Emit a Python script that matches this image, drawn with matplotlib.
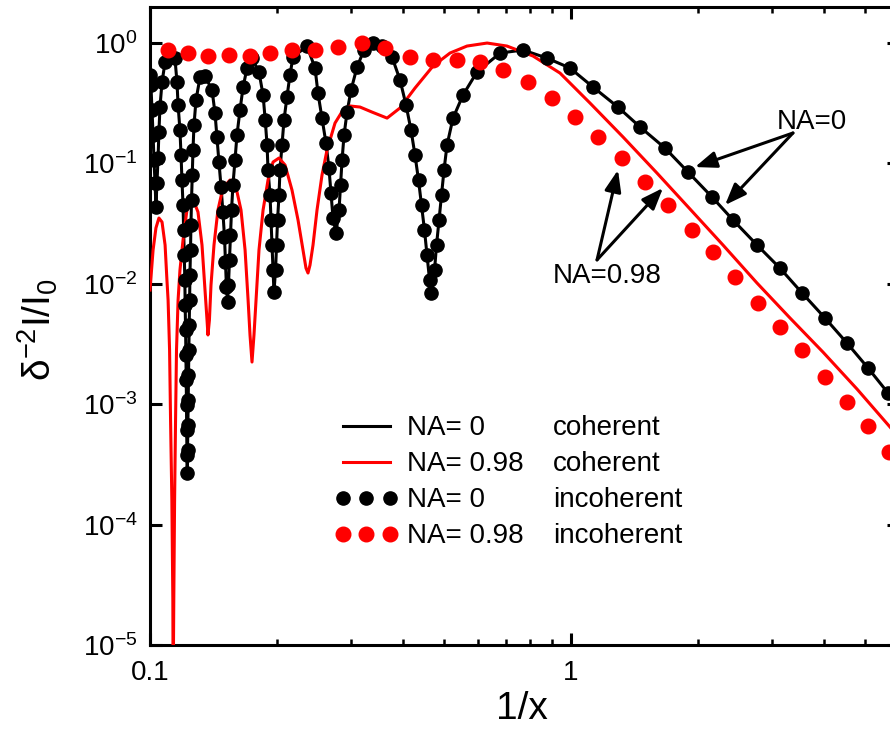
import matplotlib
matplotlib.use("Agg")
import matplotlib.pyplot as plt
from matplotlib.lines import Line2D
from matplotlib.ticker import FixedLocator, NullLocator, LogLocator, NullFormatter, FixedFormatter

plt.rcParams['font.family'] = ['Liberation Sans', 'DejaVu Sans']
plt.rcParams['mathtext.fontset'] = 'custom'
plt.rcParams['mathtext.rm'] = 'Liberation Sans'
plt.rcParams['mathtext.it'] = 'Liberation Sans:italic'
plt.rcParams['mathtext.default'] = 'regular'

# ---- data: NA = 0 (coherent and incoherent coincide) ----
x_na0 = [0.1000, 0.1005, 0.1011, 0.1017, 0.1022, 0.1028, 0.1033, 0.1039, 0.1045, 0.1050,
         0.1056, 0.1068, 0.1086, 0.1116, 0.1146, 0.1159, 0.1166, 0.1178, 0.1185, 0.1191,
         0.1198, 0.1202, 0.1206, 0.1210, 0.1212, 0.1215, 0.1217, 0.1219, 0.1221, 0.1222,
         0.1224, 0.1226,
         0.1228, 0.1230, 0.1232, 0.1234, 0.1236, 0.1239, 0.1242, 0.1244, 0.1248, 0.1251,
         0.1255, 0.1260, 0.1265, 0.1272, 0.1286, 0.1315,
         0.1351, 0.1404, 0.1427, 0.1442, 0.1458, 0.1475, 0.1490, 0.1503, 0.1511, 0.1519, 0.1528,
         0.1536, 0.1545, 0.1553, 0.1562, 0.1574, 0.1592, 0.1609, 0.1636, 0.1664, 0.1700, 0.1747,
         0.1815, 0.1856, 0.1878, 0.1897, 0.1907, 0.1928, 0.1939, 0.1949, 0.1960, 0.1970,
         0.1987, 0.1998, 0.2009, 0.2025, 0.2036, 0.2058, 0.2081, 0.2115, 0.2150, 0.2186, 0.2360,
         0.2466, 0.2506, 0.2562, 0.2618, 0.2661, 0.2691, 0.2721, 0.2766,
         0.2812, 0.2835, 0.2859, 0.2890, 0.2938, 0.3003, 0.3103, 0.3223, 0.3386, 0.3557,
         0.3757, 0.3926, 0.4057, 0.4169, 0.4261, 0.4343, 0.4415, 0.4487, 0.4550, 0.4613, 0.4660,
         0.4741, 0.4793, 0.4859, 0.4925, 0.4993, 0.5076, 0.5245, 0.5540, 0.5978,
         0.6785, 0.7690, 0.8769, 0.9945, 1.128, 1.2925, 1.4585, 1.6727, 1.8967, 2.1626,
         2.4254, 2.7661, 3.1355, 3.5383, 4.011, 4.5248, 5.0758, 5.6624, 6.0]
y_na0 = [0.542, 0.448, 0.278, 0.172, 0.107, 0.0687, 0.0434, 0.0687, 0.111, 0.182,
         0.294, 0.474, 0.695, 0.780, 0.750, 0.474, 0.305, 0.189, 0.117, 0.0728,
         0.0451, 0.0280, 0.0173, 0.0108, 0.00667, 0.00413, 0.00256, 0.00159, 0.000985, 0.000610,
         0.000379, 0.000268,
         0.000417, 0.000672, 0.00108, 0.00175, 0.00282, 0.00455, 0.00733, 0.0118, 0.0191, 0.0308,
         0.0497, 0.0801, 0.129, 0.208, 0.336, 0.522,
         0.532, 0.407, 0.262, 0.166, 0.1027, 0.0637, 0.0395, 0.0245, 0.0152, 0.0094, 0.0071,
         0.00977, 0.0158, 0.0254, 0.0410, 0.0662, 0.107, 0.172, 0.278, 0.431, 0.620, 0.750,
         0.574, 0.370, 0.229, 0.142, 0.0882, 0.0546, 0.0339, 0.0210, 0.0130, 0.00855,
         0.0130, 0.0210, 0.0339, 0.0546, 0.0882, 0.142, 0.229, 0.356, 0.542, 0.765, 0.944,
         0.620, 0.384, 0.238, 0.148, 0.0916, 0.0568, 0.0352, 0.0264,
         0.0410, 0.0662, 0.107, 0.172, 0.267, 0.407, 0.632, 0.875, 1.0, 0.944,
         0.765, 0.493, 0.305, 0.189, 0.117, 0.0728, 0.0451, 0.0280, 0.0173, 0.0108, 0.0084,
         0.0130, 0.0210, 0.0339, 0.0546, 0.0882, 0.142, 0.238, 0.370, 0.574,
         0.826, 0.875, 0.750, 0.620, 0.431, 0.294, 0.201, 0.134, 0.0849, 0.0526,
         0.0339, 0.0210, 0.0135, 0.0084, 0.0052, 0.00322, 0.0020, 0.00124, 0.00098]

# ---- data: NA = 0.98 coherent ----
x_na098_coh = [0.1000, 0.1017, 0.1033, 0.1050, 0.1068, 0.1086, 0.1097, 0.1104, 0.1113, 0.1119,
               0.1127, 0.1133, 0.1135, 0.1139, 0.1144, 0.1150, 0.1156, 0.1166, 0.1178, 0.1198,
               0.1224, 0.1265, 0.1300, 0.1329, 0.1351, 0.1366, 0.1373, 0.1384, 0.1396, 0.1419,
               0.1450, 0.1490, 0.1549, 0.1600, 0.1645, 0.1682, 0.1710, 0.1728, 0.1747, 0.1766,
               0.1786, 0.1815, 0.1856, 0.1907, 0.1960, 0.2025, 0.2093, 0.2174, 0.2247, 0.2309,
               0.2347, 0.2373, 0.2399, 0.2439, 0.2493, 0.2562, 0.2633, 0.2751, 0.2875, 0.2986,
               0.3154, 0.3368, 0.3657, 0.3926, 0.4261, 0.4702, 0.5160, 0.5662, 0.6320, 0.7046,
               0.8124, 0.9417, 1.1093, 1.3288, 1.6003, 1.9173, 2.2963, 2.7661, 3.3131, 3.9676,
               4.7791, 5.7251, 6.0]
y_na098_coh = [0.00888, 0.0191, 0.0291, 0.0352, 0.0326, 0.0210, 0.0108, 0.00733, 0.00282, 0.000739,
               0.000160, 2.4e-5, 4e-6, 2.4e-5, 0.000160, 0.000739, 0.00282, 0.00733, 0.0130, 0.0231,
               0.0410, 0.0506, 0.0395, 0.0210, 0.00888, 0.00500, 0.00376, 0.00500, 0.00977, 0.0210,
               0.0410, 0.0625, 0.0728, 0.0637, 0.0410, 0.0191, 0.00733, 0.00376, 0.00224, 0.00376,
               0.00733, 0.0191, 0.0410, 0.0728, 0.1027, 0.1109, 0.0970, 0.0601, 0.0339, 0.0191,
               0.0135, 0.0123, 0.0143, 0.0210, 0.0410, 0.0801, 0.129, 0.2165, 0.278, 0.300,
               0.294, 0.267, 0.238, 0.289, 0.423, 0.644, 0.826, 0.944, 1.0, 0.944,
               0.780, 0.563, 0.3175, 0.166, 0.0832, 0.0418, 0.0210, 0.01015, 0.0052, 0.00271,
               0.001337, 0.000646, 0.000534]

# ---- data: NA = 0.98 incoherent ----
x_na098_inc = [0.1104, 0.1231, 0.1373, 0.1540, 0.1728, 0.1928, 0.2174, 0.2466, 0.2797, 0.3188,
               0.3616, 0.4146, 0.4702, 0.5361, 0.6077, 0.6896, 0.7905, 0.9014, 1.0221, 1.1590,
               1.3213, 1.4991, 1.7000, 1.9385, 2.1744, 2.4521, 2.7814, 3.1355, 3.5383, 4.0110,
               4.5248, 5.0758, 5.6935]
y_na098_inc = [0.875, 0.826, 0.780, 0.795, 0.780, 0.826, 0.875, 0.875, 0.926, 1.0,
               0.909, 0.765, 0.723, 0.723, 0.695, 0.597, 0.474, 0.349, 0.243, 0.166,
               0.111, 0.0701, 0.0451, 0.0280, 0.01837, 0.01139, 0.00693, 0.00438, 0.00282, 0.00168,
               0.001043, 0.000659, 0.000401]

legend_labels = ['NA= 0', 'NA= 0.98', 'NA= 0', 'NA= 0.98']
legend_kinds = ['coherent', 'coherent', 'incoherent', 'incoherent']
x_tick_vals = [0.1, 1]
x_tick_labels = ['0.1', '1']
y_tick_vals = [1e-5, 1e-4, 1e-3, 1e-2, 1e-1, 1]
y_tick_labels = ['$10^{-5}$', '$10^{-4}$', '$10^{-3}$', '$10^{-2}$', '$10^{-1}$', '$10^{0}$']

fig = plt.figure(figsize=(8.9, 7.3), dpi=100)
ax = fig.add_axes([150 / 890, 85 / 730, 748.6 / 890, 638.2 / 730])
ax.set_xscale('log')
ax.set_yscale('log')

ax.plot(x_na0, y_na0, color='black', lw=2.2, zorder=2)
ax.plot(x_na098_coh, y_na098_coh, color='red', lw=2.2, zorder=3)
ax.plot(x_na0, y_na0, ls='none', marker='o', ms=9.5, color='black', mec='black', zorder=4)
ax.plot(x_na098_inc, y_na098_inc, ls='none', marker='o', ms=10.5, color='red', mec='red', zorder=5)

ax.set_xlim(0.1, 6.0)
ax.set_ylim(1e-5, 2.0)

for s in ax.spines.values():
    s.set_linewidth(2.2)

ax.xaxis.set_major_locator(FixedLocator(x_tick_vals))
ax.xaxis.set_major_formatter(FixedFormatter(x_tick_labels))
ax.xaxis.set_minor_locator(LogLocator(base=10, subs=[2, 3, 4, 5, 6, 7, 8, 9]))
ax.xaxis.set_minor_formatter(NullFormatter())
ax.yaxis.set_major_locator(FixedLocator(y_tick_vals))
ax.yaxis.set_major_formatter(FixedFormatter(y_tick_labels))
ax.yaxis.set_minor_locator(NullLocator())

ax.tick_params(which='both', direction='in', top=True, right=True, width=2.2)
ax.tick_params(which='major', length=8.5, labelsize=20)
ax.tick_params(which='minor', length=4.5, width=1.8)
ax.tick_params(axis='x', which='major', pad=11)
ax.tick_params(axis='y', which='major', pad=9)

ax.set_xlabel('1/x', fontsize=28)
ax.xaxis.set_label_coords(0.497, -0.072)
ax.xaxis.label.set_va('top')
ax.set_ylabel('δ$^{-2}$I/I$_0$', fontsize=28)
ax.yaxis.set_label_coords(-0.120, 0.494)

handles = [
    Line2D([], [], color='black', lw=2.2),
    Line2D([], [], color='red', lw=2.2),
    Line2D([], [], ls='none', marker='o', ms=9.5, color='black'),
    Line2D([], [], ls='none', marker='o', ms=10.5, color='red'),
]
leg = ax.legend(handles, legend_labels, loc='upper left', bbox_to_anchor=(0.247, 0.360),
                frameon=False, fontsize=20, numpoints=3, handlelength=2.27,
                handletextpad=0.32, labelspacing=0.36, borderpad=0, borderaxespad=0)

fig.canvas.draw()
inv = fig.transFigure.inverted()
for t, kind in zip(leg.get_texts(), legend_kinds):
    bb = t.get_window_extent()
    x0, y0 = inv.transform((553, bb.y0))
    fig.text(x0, y0, kind, fontsize=20, ha='left', va='bottom')

arrow_kw = dict(arrowstyle='-|>,head_length=0.65,head_width=0.25', lw=2.2, color='black',
                shrinkA=0, shrinkB=0, mutation_scale=20)
ax.annotate('', xy=(1.970, 0.0933), xytext=(3.367, 0.179), arrowprops=arrow_kw)
ax.annotate('', xy=(2.322, 0.0451), xytext=(3.367, 0.179), arrowprops=arrow_kw)
ax.text(3.736, 0.221, 'NA=0', fontsize=20, ha='center', va='center')
ax.annotate('', xy=(1.293, 0.0882), xytext=(1.153, 0.0158), arrowprops=arrow_kw)
ax.annotate('', xy=(1.654, 0.0625), xytext=(1.153, 0.0158), arrowprops=arrow_kw)
ax.text(1.218, 0.0116, 'NA=0.98', fontsize=20, ha='center', va='center')

fig.savefig('out.png', dpi=100)
